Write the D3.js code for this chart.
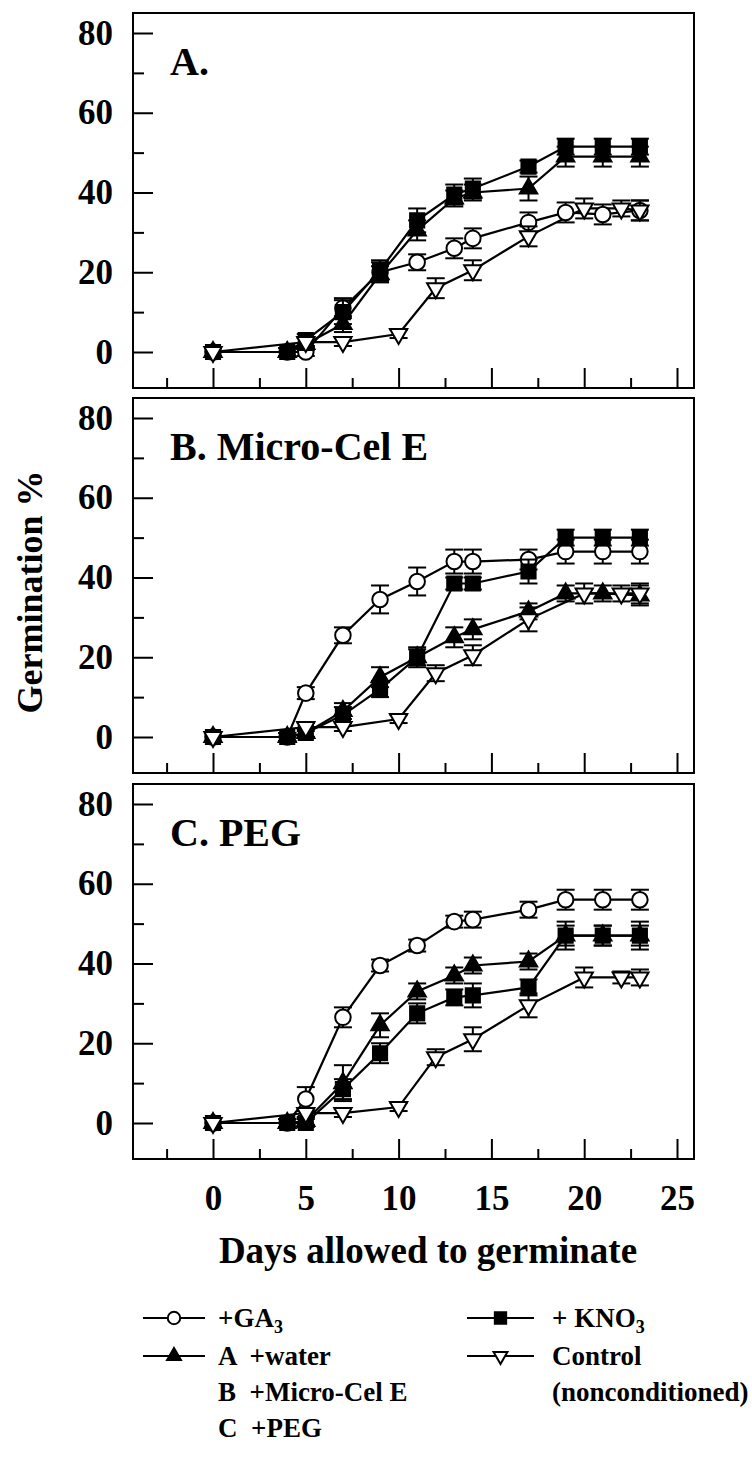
<!DOCTYPE html>
<html>
<head>
<meta charset="utf-8">
<script src="https://cdn.jsdelivr.net/npm/d3@7"></script>
<style>
  body { margin: 0; background: #fff; }
  svg text { font-family: "Liberation Serif", "Times New Roman", serif; font-weight: bold; fill: #000; }
</style>
</head>
<body>
<script>
// days on which each series was counted
const days = [0, 4, 5, 7, 9, 11, 13, 14, 17, 19, 21, 23];
const ctrlDays = [0, 5, 7, 10, 12, 14, 17, 20, 22, 23];

const yTicks = [0, 20, 40, 60, 80];
const yMinor = [10, 30, 50, 70];
const xTicks = [0, 5, 10, 15, 20, 25];
const xMinor = [-2.5, 2.5, 7.5, 12.5, 17.5, 22.5];

const panelLabels = ["A.", "B. Micro-Cel E", "C. PEG"];

// panel A
const ga3A = [0, 0, 0, 11, 20, 22.5, 26, 28.5, 32.5, 35, 34.5, 35.5];
const ga3AErr = [1, 1, 1, 2.5, 2.5, 2, 2.5, 2.5, 2.5, 2.5, 2.5, 2.5];
const waterA = [0, 0, 2, 7, 19.5, 30.5, 38.5, 40, 41, 49, 49, 49];
const waterAErr = [1, 1, 1.5, 2, 2, 2.5, 2, 2, 3, 2.5, 2.5, 2.5];
const kno3A = [0, 0, 3, 10, 20.5, 33, 39.5, 41, 46.5, 51.5, 51.5, 51.5];
const kno3AErr = [1, 1, 1.5, 3, 2.5, 3, 2.5, 2.5, 1.5, 2, 2, 2];
const ctrlA = [0, 2.5, 2.5, 4.5, 16, 20.5, 29, 36, 36, 35.5];
const ctrlAErr = [1, 1, 1, 1, 2.5, 2.5, 2.5, 2.5, 2, 2.5];

// panel B
const ga3B = [0, 0, 11, 25.5, 34.5, 39, 44, 44, 44.5, 46.5, 46.5, 46.5];
const ga3BErr = [1, 1, 1.5, 2, 3.5, 3.5, 3, 3, 2.5, 3, 3, 3];
const waterB = [0, 0, 1, 6.5, 15, 20, 25, 27, 31.5, 36, 36, 35.5];
const waterBErr = [1, 1, 1, 2, 2.5, 2.5, 2.5, 2.5, 2, 2, 2, 2.5];
const kno3B = [0, 0, 1, 5.5, 12, 20, 38.5, 38.5, 41.5, 50, 50, 50];
const kno3BErr = [1, 1, 1, 2, 2, 2, 1.5, 1.5, 3, 2, 2, 2];
const ctrlB = [0, 2.5, 2.5, 4.5, 16, 20.5, 29.5, 36, 36, 36];
const ctrlBErr = [1, 1, 1, 1, 2, 2.5, 3, 2.5, 2, 2.5];

// panel C
const ga3C = [0, 0, 6, 26.5, 39.5, 44.5, 50.5, 51, 53.5, 56, 56, 56];
const ga3CErr = [1, 1, 3, 2.5, 1.5, 1.5, 1.5, 2, 2, 2.5, 2.5, 2.5];
const waterC = [0, 0, 0.5, 10, 24.5, 33, 37, 39.5, 40.5, 47, 47, 47];
const waterCErr = [1, 1, 1, 4.5, 3, 2, 2, 2, 2, 2.5, 2.5, 2.5];
const kno3C = [0, 0, 0, 8.5, 17.5, 27.5, 31.5, 32, 34, 47, 47, 47];
const kno3CErr = [1, 1, 1, 2.5, 2.5, 2.5, 2, 3, 2, 3.5, 2.5, 3.5];
const ctrlC = [0, 2.5, 2.5, 4, 16.5, 21, 29.5, 36.5, 36.5, 36.5];
const ctrlCErr = [1, 1, 1, 1, 2, 3, 3, 2.5, 1.5, 2];

const panels = [
  [ [days, ga3A, ga3AErr, "circle"], [days, waterA, waterAErr, "tri"], [days, kno3A, kno3AErr, "square"], [ctrlDays, ctrlA, ctrlAErr, "itri"] ],
  [ [days, ga3B, ga3BErr, "circle"], [days, waterB, waterBErr, "tri"], [days, kno3B, kno3BErr, "square"], [ctrlDays, ctrlB, ctrlBErr, "itri"] ],
  [ [days, ga3C, ga3CErr, "circle"], [days, waterC, waterCErr, "tri"], [days, kno3C, kno3CErr, "square"], [ctrlDays, ctrlC, ctrlCErr, "itri"] ]
];

const width = 752, height = 1484;
const boxLeft = 133, boxRight = 694;
const panelTop = [13, 398, 784], panelH = 375;

const svg = d3.select("body").append("svg")
  .attr("width", width).attr("height", height);

const x = d3.scaleLinear().domain([0, 25]).range([213, 677]);

// marker shapes
const markerPath = {
  circle: d3.symbol(d3.symbolCircle, 190)(),
  square: d3.symbol(d3.symbolSquare, 200)(),
  tri: d3.symbol(d3.symbolTriangle, 130)(),
  itri: d3.symbol(d3.symbolTriangle, 130)()
};
const filled = { circle: false, square: true, tri: true, itri: false };

function drawMarker(g, type, cx, cy, scale) {
  g.append("path")
    .attr("d", markerPath[type])
    .attr("transform", "translate(" + cx + "," + cy + ")" + (type === "itri" ? " rotate(180)" : "") + (scale ? " scale(" + scale + ")" : ""))
    .attr("fill", filled[type] ? "#000" : "#fff")
    .attr("stroke", "#000")
    .attr("stroke-width", scale ? 2 / scale : 2);
}

panels.forEach((series, pi) => {
  const top = panelTop[pi];
  const y = d3.scaleLinear().domain([0, 80]).range([top + 339, top + 20]);
  const g = svg.append("g");

  // frame
  g.append("rect")
    .attr("x", boxLeft).attr("y", top)
    .attr("width", boxRight - boxLeft).attr("height", panelH)
    .attr("fill", "none").attr("stroke", "#000").attr("stroke-width", 2);

  // y axis: major ticks with labels, minor ticks inward
  const yAxis = g.append("g")
    .attr("transform", "translate(" + boxLeft + ",0)")
    .call(d3.axisLeft(y).tickValues(yTicks).tickSize(-20).tickPadding(20));
  yAxis.select(".domain").remove();
  yAxis.selectAll("line").attr("stroke-width", 2);
  yAxis.selectAll("text").attr("font-size", 35).attr("font-family", null);

  const yMin = g.append("g")
    .attr("transform", "translate(" + boxLeft + ",0)")
    .call(d3.axisLeft(y).tickValues(yMinor).tickSize(-11).tickFormat(""));
  yMin.select(".domain").remove();
  yMin.selectAll("line").attr("stroke-width", 2);

  // x axis ticks pointing up from the bottom edge
  const bottom = top + panelH;
  const xAxis = g.append("g")
    .attr("transform", "translate(0," + bottom + ")")
    .call(d3.axisBottom(x).tickValues(xTicks).tickSize(-20).tickPadding(26)
      .tickFormat(pi === 2 ? d3.format("d") : ""));
  xAxis.select(".domain").remove();
  xAxis.selectAll("line").attr("stroke-width", 2);
  xAxis.selectAll("text").attr("font-size", 35).attr("font-family", null);

  const xMin = g.append("g")
    .attr("transform", "translate(0," + bottom + ")")
    .call(d3.axisBottom(x).tickValues(xMinor).tickSize(-10).tickFormat(""));
  xMin.select(".domain").remove();
  xMin.selectAll("line").attr("stroke-width", 2);

  // panel label
  g.append("text")
    .attr("x", 170).attr("y", top + 62)
    .attr("font-size", 40)
    .text(panelLabels[pi]);

  // lines
  const line = d3.line().x(d => x(d[0])).y(d => y(d[1]));
  series.forEach(s => {
    const pts = s[0].map((d, i) => [d, s[1][i]]);
    g.append("path")
      .attr("d", line(pts))
      .attr("fill", "none").attr("stroke", "#000").attr("stroke-width", 2.2);
  });

  // error bars and markers
  series.forEach(s => {
    s[0].forEach((d, i) => {
      const cx = x(d), v = s[1][i], e = s[2][i];
      const y1 = y(v + e), y2 = y(v - e);
      g.append("line").attr("x1", cx).attr("x2", cx).attr("y1", y1).attr("y2", y2)
        .attr("stroke", "#000").attr("stroke-width", 2);
      [y1, y2].forEach(yy => {
        g.append("line").attr("x1", cx - 9).attr("x2", cx + 9).attr("y1", yy).attr("y2", yy)
          .attr("stroke", "#000").attr("stroke-width", 2);
      });
      drawMarker(g, s[3], cx, y(v));
    });
  });
});

// axis titles
svg.append("text")
  .attr("transform", "translate(42,592) rotate(-90)")
  .attr("text-anchor", "middle")
  .attr("font-size", 36)
  .text("Germination %");

svg.append("text")
  .attr("x", 428).attr("y", 1263)
  .attr("text-anchor", "middle")
  .attr("font-size", 37)
  .text("Days allowed to germinate");

// legend
const legendRows = [1318, 1356, 1392, 1428];
const leg = svg.append("g").attr("font-size", 27);

function legendKey(x0, x1, yy, type) {
  leg.append("line").attr("x1", x0).attr("x2", x1).attr("y1", yy).attr("y2", yy)
    .attr("stroke", "#000").attr("stroke-width", 2);
  drawMarker(leg, type, (x0 + x1) / 2, yy, 0.8);
}

legendKey(143, 205, legendRows[0], "circle");
legendKey(143, 205, legendRows[1], "tri");
legendKey(467, 534, legendRows[0], "square");
legendKey(467, 534, legendRows[1], "itri");

const t1 = leg.append("text").attr("x", 218).attr("y", legendRows[0]).attr("dy", "0.35em");
t1.append("tspan").text("+GA");
t1.append("tspan").attr("font-size", 18).attr("dy", 6).text("3");

leg.append("text").attr("x", 218).attr("y", legendRows[1]).attr("dy", "0.35em").attr("xml:space", "preserve").style("white-space", "pre").text("A  +water");
leg.append("text").attr("x", 218).attr("y", legendRows[2]).attr("dy", "0.35em").style("white-space", "pre").text("B  +Micro-Cel E");
leg.append("text").attr("x", 218).attr("y", legendRows[3]).attr("dy", "0.35em").style("white-space", "pre").text("C  +PEG");

const t2 = leg.append("text").attr("x", 552).attr("y", legendRows[0]).attr("dy", "0.35em");
t2.append("tspan").text("+ KNO");
t2.append("tspan").attr("font-size", 18).attr("dy", 6).text("3");

leg.append("text").attr("x", 552).attr("y", legendRows[1]).attr("dy", "0.35em").text("Control");
leg.append("text").attr("x", 552).attr("y", legendRows[2]).attr("dy", "0.35em").text("(nonconditioned)");
</script>
</body>
</html>
